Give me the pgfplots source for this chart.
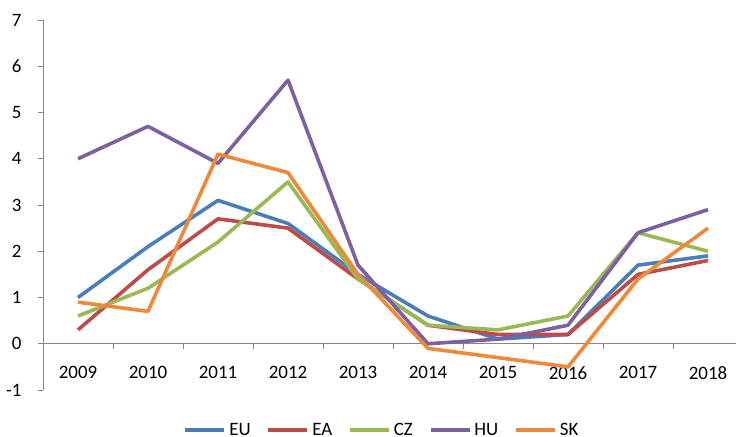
\documentclass[border=0pt]{standalone}
\usepackage{pgfplots}
\pgfplotsset{compat=1.18}
\usepackage{fontspec}
\setmainfont{Carlito}
\definecolor{cEU}{HTML}{4A7EBB}
\definecolor{cEA}{HTML}{BE4B48}
\definecolor{cCZ}{HTML}{98B954}
\definecolor{cHU}{HTML}{7D60A0}
\definecolor{cSK}{HTML}{F0883A}
\definecolor{axisgray}{HTML}{868686}

\begin{document}
\begin{tikzpicture}
\begin{axis}[
    at={(0,0)}, anchor=south west,
    scale only axis, width=693bp, height=370bp,
    xmin=-0.5, xmax=9.4, ymin=-1, ymax=7,
    axis x line=middle, axis y line=left,
    axis line style={draw=axisgray, line width=0.8bp, -},
    hide obscured x ticks=false, hide obscured y ticks=false,
    xtick={0.5,1.5,...,8.5}, xticklabels={},
    extra x ticks={0,...,9},
    extra x tick labels={2009,2010,2011,2012,2013,2014,2015,2016,2017,2018},
    extra x tick style={major tick length=0pt},
    ytick={-1,0,...,7}, yticklabels={-1,0,1,2,3,4,5,6,7},
    tick align=outside,
    tick style={draw=axisgray, line width=0.8bp},
    major tick length=5bp,
    ticklabel style={font=\fontsize{19}{21}\selectfont, text=black},
    xticklabel style={yshift=-19bp},
    yticklabel style={xshift=-13bp},
    clip=false,
    legend columns=-1,
    legend style={at={(axis description cs:0.49,-0.108)}, anchor=center,
        draw=none, font=\fontsize{19}{21}\selectfont,
        nodes={inner xsep=3bp},
        /tikz/every even column/.append style={column sep=13bp}},
    legend image code/.code={\draw[#1] (0bp,0bp) -- (39bp,0bp);},
    every axis plot/.append style={line width=3.6bp, no markers, line join=round},
]
\addplot[cEU] coordinates {(0,1.0) (1,2.1) (2,3.1) (3,2.6) (4,1.5) (5,0.6) (6,0.1) (7,0.2) (8,1.7) (9,1.9)};
\addlegendentry{EU}
\addplot[cEA] coordinates {(0,0.3) (1,1.6) (2,2.7) (3,2.5) (4,1.4) (5,0.4) (6,0.2) (7,0.2) (8,1.5) (9,1.8)};
\addlegendentry{EA}
\addplot[cCZ] coordinates {(0,0.6) (1,1.2) (2,2.2) (3,3.5) (4,1.4) (5,0.4) (6,0.3) (7,0.6) (8,2.4) (9,2.0)};
\addlegendentry{CZ}
\addplot[cHU] coordinates {(0,4.0) (1,4.7) (2,3.9) (3,5.7) (4,1.7) (5,0.0) (6,0.1) (7,0.4) (8,2.4) (9,2.9)};
\addlegendentry{HU}
\addplot[cSK] coordinates {(0,0.9) (1,0.7) (2,4.1) (3,3.7) (4,1.5) (5,-0.1) (6,-0.3) (7,-0.5) (8,1.4) (9,2.5)};
\addlegendentry{SK}
\end{axis}
\pgfresetboundingbox
\path (-43bp,-47bp) rectangle (693bp,390bp);
\end{tikzpicture}
\end{document}
